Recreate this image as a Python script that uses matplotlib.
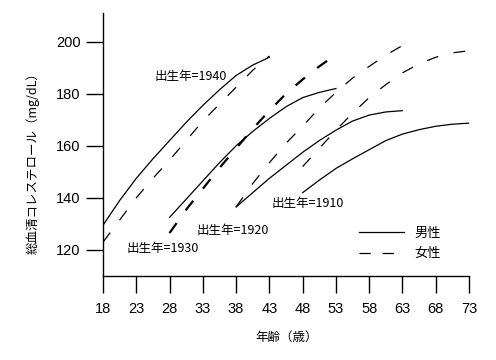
import matplotlib
matplotlib.use("Agg")
import matplotlib.pyplot as plt
from matplotlib.lines import Line2D

plt.rcParams['font.family'] = ['Noto Sans CJK JP', 'DejaVu Sans']

# ---- data (ages and cholesterol values, mg/dL) ----
age_1940 = [18, 20.5, 23, 25.5, 28, 30.5, 33, 35.5, 38, 40.5, 43]
male_1940 = [129.5, 139, 147.5, 155, 162, 169, 175.5, 181.5, 187, 191, 194]
female_1940 = [123, 131.5, 140, 147.5, 154.5, 162, 169.5, 176, 182.5, 189, 194.5]

age_1930 = [28, 30.5, 33, 35.5, 38, 40.5, 43, 45.5, 48, 50.5, 53]
male_1930 = [132.5, 139.5, 146.5, 153.5, 160, 165.5, 170.5, 175, 178.5, 180.5, 182]
female_1930 = [126.5, 135.5, 143.5, 151.5, 159, 166.5, 173.5, 180, 185.5, 190.5, 195]

age_1920 = [38, 40.5, 43, 45.5, 48, 50.5, 53, 55.5, 58, 60.5, 63]
male_1920 = [136.5, 142, 147.5, 152.5, 157.5, 162, 166, 169.5, 171.8, 173, 173.5]
female_1920 = [136.5, 145.5, 153.5, 161, 167.5, 174.5, 180.5, 186, 190.5, 194.8, 198.5]

age_1910 = [48, 50.5, 53, 55.5, 58, 60.5, 63, 65.5, 68, 70.5, 73]
male_1910 = [142, 146.8, 151.3, 155, 158.5, 162, 164.5, 166.2, 167.5, 168.3, 168.7]
female_1910 = [152, 159, 166, 172.5, 178.5, 183.5, 188, 191.5, 194, 195.7, 196.5]

x_ticks = [18, 23, 28, 33, 38, 43, 48, 53, 58, 63, 68, 73]
y_ticks = [120, 140, 160, 180, 200]

cohort_labels = ["出生年=1940", "出生年=1930", "出生年=1920", "出生年=1910"]
cohort_label_pos = [(25.8, 186.7), (21.6, 120.4), (32.1, 127.4), (43.3, 138.0)]

legend_labels = ["男性", "女性"]
x_label = "年齢（歳）"
y_label = "総血清コレステロール（mg/dL）"

# ---- figure ----
fig = plt.figure(figsize=(4.96, 3.6), dpi=100)
ax = fig.add_axes([103/496, 1-276/360, (469-103)/496, (276-13)/360])

lw = 0.9
dash = (0, (9.5, 12.5))

ax.plot(age_1940, male_1940, color='black', lw=lw)
ax.plot(age_1940, female_1940, color='black', lw=lw, linestyle=dash)
ax.plot(age_1930, male_1930, color='black', lw=lw)
ax.plot(age_1930, female_1930, color='black', lw=1.6, linestyle=(0, (5.5, 7.0)))
ax.plot(age_1920, male_1920, color='black', lw=lw)
ax.plot(age_1920, female_1920, color='black', lw=lw, linestyle=dash)
ax.plot(age_1910, male_1910, color='black', lw=lw)
ax.plot(age_1910, female_1910, color='black', lw=lw, linestyle=dash)

for txt, (xx, yy) in zip(cohort_labels, cohort_label_pos):
    ax.text(xx, yy, txt, fontsize=9, ha='left', va='center', color='black')

ax.set_xlim(18, 73)
ax.set_ylim(110, 211)
ax.set_xticks(x_ticks)
ax.set_yticks(y_ticks)
ax.set_xticklabels([str(v) for v in x_ticks], fontfamily='Liberation Sans', fontsize=10.5)
ax.set_yticklabels([str(v) for v in y_ticks], fontfamily='Liberation Sans', fontsize=10.5)
ax.tick_params(axis='both', direction='out', length=12, width=1.0, color='black')
ax.tick_params(axis='x', pad=7)
ax.tick_params(axis='y', pad=4)

for s in ['top', 'right']:
    ax.spines[s].set_visible(False)
for s in ['left', 'bottom']:
    ax.spines[s].set_linewidth(1.0)

handles = [Line2D([], [], color='black', lw=lw),
           Line2D([], [], color='black', lw=lw, linestyle=(0, (9, 9.5)))]
ax.legend(handles, legend_labels, loc='upper left',
          bbox_to_anchor=((359-103)/366, (276-227)/263),
          frameon=False, fontsize=9.5, handlelength=3.4, handletextpad=0.8,
          labelspacing=0.55, borderpad=0, borderaxespad=0)

fig.text(287/496, 1-337/360, x_label, fontsize=9, ha='center', va='center')
fig.text(32.5/496, 1-160/360, y_label, fontsize=9, rotation=90, ha='center', va='center')

fig.savefig("out.png", dpi=100)
